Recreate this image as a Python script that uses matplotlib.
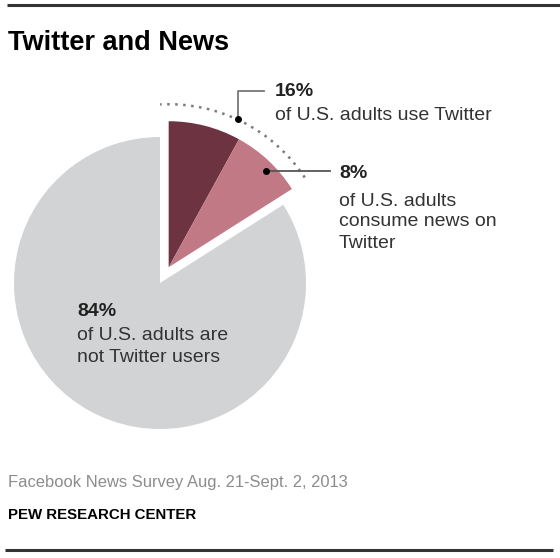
import numpy as np
import matplotlib
matplotlib.use("Agg")
import matplotlib.pyplot as plt
from matplotlib.patches import Arc

# ---- data ----
categories = ["Use Twitter, no news", "Consume news on Twitter", "Not Twitter users"]
values = [8, 8, 84]
colors = ["#6d3341", "#c27986", "#d1d3d5"]
title = "Twitter and News"
source = "Facebook News Survey Aug. 21-Sept. 2, 2013"
credit = "PEW RESEARCH CENTER"

W, H = 560, 558
fig = plt.figure(figsize=(W / 100, H / 100), dpi=100)
ax = fig.add_axes([0, 0, 1, 1])

FONT = "Liberation Sans"

cx, cy = 160, H - 283
R = 146
wedges, _ = ax.pie(values, colors=colors, startangle=90, counterclock=False,
                   radius=R, center=(cx, cy),
                   wedgeprops=dict(linewidth=0, antialiased=True))

# explode Twitter users slice (first two wedges) together
total = sum(values)
tw = (values[0] + values[1]) / total * 360.0
mid = np.deg2rad(90 - tw / 2)
d = 18
ox, oy = cx + d * np.cos(mid), cy + d * np.sin(mid)
for w in wedges[:2]:
    w.set_center((ox, oy))

ax.set_xlim(0, W)
ax.set_ylim(0, H)
ax.set_aspect("auto")
ax.axis("off")

# dotted arc around Twitter users
Ra = 163
arc = Arc((ox, oy), 2 * Ra, 2 * Ra, theta1=90 - tw + 1, theta2=93,
          linestyle=(0, (1, 2.2)), color="#7a7a7a", linewidth=1.8)
ax.add_patch(arc)

# leader 1: from arc up to 16% label
a1 = np.deg2rad(90 - 25)
p1 = (ox + Ra * np.cos(a1), oy + Ra * np.sin(a1))
ly1 = H - 91
ax.plot([p1[0], p1[0], p1[0] + 26], [p1[1], ly1, ly1], color="#777777", lw=1.3)
ax.plot([p1[0]], [p1[1]], "o", color="black", ms=4)

# leader 2: from pink slice to 8% label
cum = values[0] / total * 360.0
a2 = np.deg2rad(90 - (cum + values[1] / total * 360.0 / 2) - 2)
r2 = 137
p2 = (ox + r2 * np.cos(a2), oy + r2 * np.sin(a2))
ax.plot([p2[0], 330], [p2[1], p2[1]], color="#555555", lw=1.3)
ax.plot([p2[0]], [p2[1]], "o", color="black", ms=4)

body = dict(fontfamily=FONT, fontsize=14, color="#333333", va="center", ha="left")
bold = dict(fontfamily=FONT, fontsize=14, color="#222222", va="center", ha="left",
            fontweight="bold")

pct1 = values[0] + values[1]
ax.text(275, H - 92, f"{pct1}%", **bold)
ax.text(275, H - 115, "of U.S. adults use Twitter", **body)

ax.text(339, H - 173, f"{values[1]}%", **bold)
ax.text(339, H - 202, "of U.S. adults", **body)
ax.text(339, H - 222, "consume news on", **body)
ax.text(339, H - 243, "Twitter", **body)

ax.text(77, H - 312, f"{values[2]}%", **bold)
ax.text(77, H - 335, "of U.S. adults are", **body)
ax.text(77, H - 358, "not Twitter users", **body)

# title, source, rules
ax.text(8, H - 43, title, fontfamily=FONT, fontsize=19.5, fontweight="bold",
        color="black", va="center", ha="left")
ax.text(8, H - 482, source, fontfamily=FONT, fontsize=11.9, color="#8c8c8c",
        va="center", ha="left")
ax.text(8, H - 515, credit, fontfamily=FONT, fontsize=10.8, fontweight="bold",
        color="black", va="center", ha="left")
ax.plot([7, W], [H - 5, H - 5], color="#333333", lw=2.2, solid_capstyle="butt")
ax.plot([5, 553], [H - 550, H - 550], color="#333333", lw=2.2, solid_capstyle="butt")

fig.savefig("out.png", dpi=100, facecolor="white")
